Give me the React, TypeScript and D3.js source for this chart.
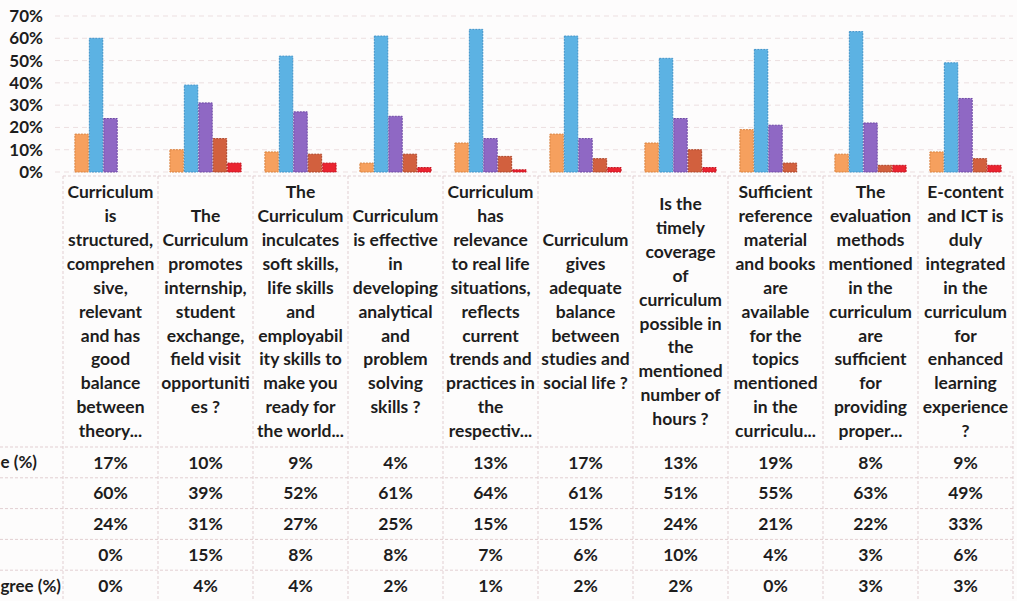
import React from "react";
import * as d3 from "d3";

const categories: string[][] = [
  ["Curriculum", "is", "structured,", "comprehen", "sive,", "relevant", "and has", "good", "balance", "between", "theory..."],
  ["The", "Curriculum", "promotes", "internship,", "student", "exchange,", "field visit", "opportuniti", "es ?"],
  ["The", "Curriculum", "inculcates", "soft skills,", "life skills", "and", "employabil", "ity skills to", "make you", "ready for", "the world..."],
  ["Curriculum", "is effective", "in", "developing", "analytical", "and", "problem", "solving", "skills ?"],
  ["Curriculum", "has", "relevance", "to real life", "situations,", "reflects", "current", "trends and", "practices in", "the", "respectiv..."],
  ["Curriculum", "gives", "adequate", "balance", "between", "studies and", "social life ?"],
  ["Is the", "timely", "coverage", "of", "curriculum", "possible in", "the", "mentioned", "number of", "hours ?"],
  ["Sufficient", "reference", "material", "and books", "are", "available", "for the", "topics", "mentioned", "in the", "curriculu..."],
  ["The", "evaluation", "methods", "mentioned", "in the", "curriculum", "are", "sufficient", "for", "providing", "proper..."],
  ["E-content", "and ICT is", "duly", "integrated", "in the", "curriculum", "for", "enhanced", "learning", "experience", "?"],
];

// series keys (full names); only the right-hand fragments are visible in the cropped picture
const seriesNames = ["Strongly Agree (%)", "Agree (%)", "Neutral (%)", "Disagree (%)", "Strongly Disagree (%)"];
const visibleRowLabels = ["e (%)", "", "", "", "gree (%)"];
const stronglyAgree = [17, 10, 9, 4, 13, 17, 13, 19, 8, 9];
const agree = [60, 39, 52, 61, 64, 61, 51, 55, 63, 49];
const neutral = [24, 31, 27, 25, 15, 15, 24, 21, 22, 33];
const disagree = [0, 15, 8, 8, 7, 6, 10, 4, 3, 6];
const stronglyDisagree = [0, 4, 4, 2, 1, 2, 2, 0, 3, 3];
const seriesValues = [stronglyAgree, agree, neutral, disagree, stronglyDisagree];
const seriesColors = ["#f6a05e", "#5cb2e3", "#8f68c4", "#d2603e", "#ea2430"];
const seriesStroke = ["#d9823f", "#3f92c8", "#6d48a4", "#ad4428", "#c21520"];
const yTicks = [0, 10, 20, 30, 40, 50, 60, 70];

const W = 1017;
const H = 601;
const FONT = "Lato, 'Open Sans', sans-serif";

export default function App() {
  const idx = d3.range(categories.length).map(String);
  const x = d3.scaleBand<string>().domain(idx).range([63, 1013]).padding(0);
  const bw = x.bandwidth();
  const x1 = d3.scaleBand<string>().domain(seriesNames).range([bw * 0.12, bw * 0.88]).padding(0);
  const y = d3.scaleLinear().domain([0, 70]).range([172, 16]);
  const headerTop = 176;
  const headerBottom = 447;
  const rowY = d3.scaleBand<string>().domain(seriesNames).range([headerBottom, H]).padding(0);
  const lineH = 23.9;
  const headerMid = (headerTop + headerBottom) / 2;

  const gridColor = "#ecdfe0";
  const tableColor = "#e2cfd2";

  return (
    <svg width={W} height={H} style={{ position: "absolute", left: 0, top: 0, background: "#fff" }} fontFamily={FONT}>
      <rect x={0} y={0} width={W} height={H} fill="#fdfcfc" />
      {/* gridlines */}
      {yTicks.map((t) => (
        <line key={"g" + t} x1={55} x2={1013} y1={y(t)} y2={y(t)} stroke={gridColor} strokeWidth={1} strokeDasharray="5,4" />
      ))}
      {/* y tick labels */}
      {yTicks.map((t) => (
        <text key={"t" + t} x={43} y={y(t)} dy="0.35em" textAnchor="end" fontSize={17} fontWeight={700} fill="#1d1d1d">
          {t}%
        </text>
      ))}
      {/* bars */}
      {categories.map((_, ci) => (
        <g key={"c" + ci} transform={`translate(${x(String(ci))},0)`}>
          {seriesNames.map((s, si) => {
            const v = seriesValues[si][ci];
            return (
              <rect
                key={s}
                x={(x1(s) as number) + 0.5}
                y={y(v)}
                width={x1.bandwidth() - 1}
                height={Math.max(0, y(0) - y(v))}
                fill={seriesColors[si]}
                stroke={seriesStroke[si]}
                strokeWidth={1}
                strokeDasharray="2,1"
              />
            );
          })}
        </g>
      ))}
      {/* table lines */}
      <line x1={63} x2={1013} y1={headerTop} y2={headerTop} stroke={tableColor} strokeDasharray="3,2" />
      {seriesNames.map((s) => (
        <line key={"r" + s} x1={0} x2={1013} y1={rowY(s)} y2={rowY(s)} stroke={tableColor} strokeDasharray="3,2" />
      ))}
      {d3.range(categories.length + 1).map((i) => {
        const xx = i < categories.length ? (x(String(i)) as number) : 1013;
        return <line key={"v" + i} x1={xx} x2={xx} y1={headerTop} y2={H} stroke={tableColor} strokeDasharray="3,2" />;
      })}
      {/* header labels */}
      {categories.map((lines, ci) => {
        const cx = (x(String(ci)) as number) + bw / 2;
        const start = headerMid - ((lines.length - 1) * lineH) / 2;
        return (
          <text key={"h" + ci} textAnchor="middle" fontSize={17.5} fontWeight={700} fill="#1d1d1d">
            {lines.map((l, li) => (
              <tspan key={li} x={cx} y={start + li * lineH} dy="0.35em">
                {l}
              </tspan>
            ))}
          </text>
        );
      })}
      {/* row labels (visible part of the cropped legend column) */}
      {seriesNames.map((s, si) =>
        visibleRowLabels[si] ? (
          <text
            key={"l" + s}
            x={si === 0 ? 37 : 61}
            y={(rowY(s) as number) + rowY.bandwidth() / 2}
            dy="0.35em"
            textAnchor="end"
            fontSize={17}
            fontWeight={700}
            fill="#1d1d1d"
          >
            {visibleRowLabels[si]}
          </text>
        ) : null
      )}
      {/* values */}
      {seriesNames.map((s, si) =>
        categories.map((_, ci) => (
          <text
            key={s + ci}
            x={(x(String(ci)) as number) + bw / 2}
            y={(rowY(s) as number) + rowY.bandwidth() / 2}
            dy="0.35em"
            textAnchor="middle"
            fontSize={17.5}
            fontWeight={700}
            fill="#1d1d1d"
          >
            {seriesValues[si][ci]}%
          </text>
        ))
      )}
    </svg>
  );
}
